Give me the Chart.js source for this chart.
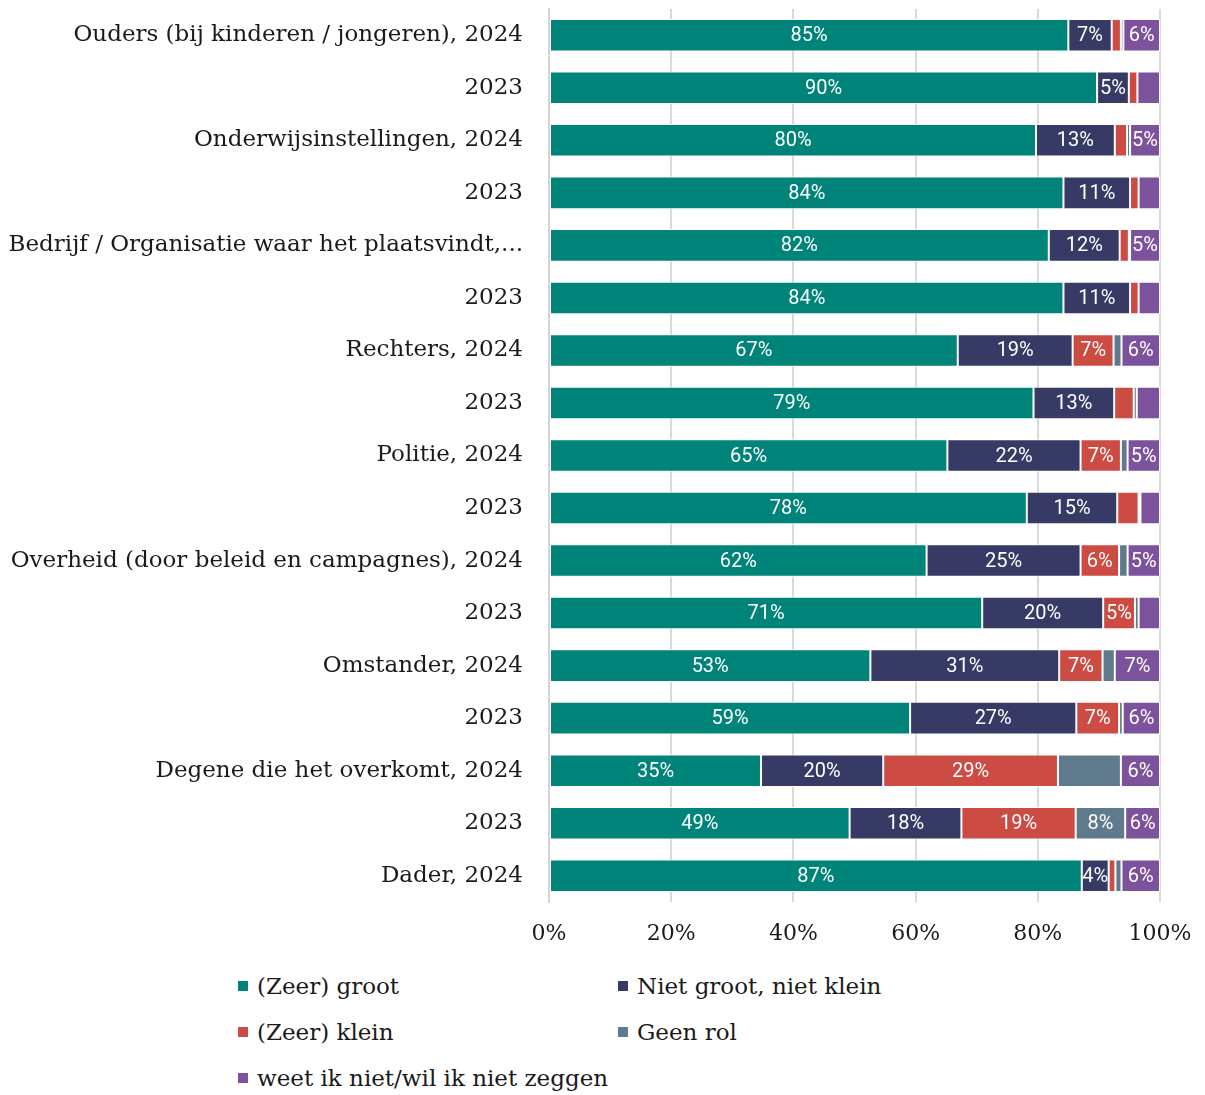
<!DOCTYPE html>
<html lang="nl">
<head>
<meta charset="utf-8">
<title>Rol bij voorkomen</title>
<script src="https://cdn.jsdelivr.net/npm/chart.js@4"></script>
<style>
    html, body { margin: 0; padding: 0; background: #fff; }
    #wrap { position: relative; width: 1205px; height: 1095px; }
    #grafiekVak { position: absolute; left: 0; top: 0; width: 1205px; height: 960px; }
    #legenda {
        position: absolute; left: 238px; top: 963px;
        display: grid; grid-template-columns: 380px 380px;
        grid-auto-rows: 46px;
        font-family: "DejaVu Serif", serif; font-size: 23px; color: #1a1a1a;
    }
    .item { display: flex; align-items: center; white-space: nowrap; }
    .blokje { width: 10px; height: 10px; margin-right: 9px; display: inline-block; }
</style>
</head>
<body>
<div id="wrap">
    <div id="grafiekVak"><canvas id="grafiek"></canvas></div>
    <div id="legenda"></div>
</div>
<script>
const categorieen = [
    'Ouders (bij kinderen / jongeren), 2024', '2023',
    'Onderwijsinstellingen, 2024', '2023',
    'Bedrijf / Organisatie waar het plaatsvindt,...', '2023',
    'Rechters, 2024', '2023',
    'Politie, 2024', '2023',
    'Overheid (door beleid en campagnes), 2024', '2023',
    'Omstander, 2024', '2023',
    'Degene die het overkomt, 2024', '2023',
    'Dader, 2024'
];

const zeerGroot   = [85.0, 89.7, 79.7, 84.2, 81.8, 84.2, 66.9, 79.3, 65.2, 78.2, 61.8, 70.9, 52.6, 59.1, 34.7, 49.2, 87.2];
const nietGroot   = [7.1, 5.2, 12.9, 10.9, 11.6, 10.9, 18.8, 13.2, 21.8, 14.8, 25.2, 19.8, 30.9, 27.2, 20.0, 18.3, 4.4];
const zeerKlein   = [1.5, 1.4, 2.0, 1.4, 1.5, 1.4, 6.7, 3.2, 6.6, 3.5, 6.3, 5.2, 7.1, 7.0, 28.6, 18.7, 1.1];
const geenRol     = [0.4, 0, 0.5, 0, 0.2, 0, 1.3, 0.5, 1.1, 0.3, 1.4, 0.6, 2.0, 0.6, 10.3, 8.1, 1.0];
const weetNiet    = [6.0, 3.7, 4.9, 3.5, 4.9, 3.5, 6.3, 3.8, 5.3, 3.2, 5.3, 3.5, 7.4, 6.1, 6.4, 5.7, 6.3];

const reeksNamen  = ['(Zeer) groot', 'Niet groot, niet klein', '(Zeer) klein', 'Geen rol', 'weet ik niet/wil ik niet zeggen'];
const reeksKleuren = ['#00847a', '#373a65', '#cc4b43', '#5f7a8d', '#7d529c'];
const asLabels = [0, 20, 40, 60, 80, 100];

// segmenten kleiner dan 4% krijgen geen label; [reeks, rij] zonder label
const labelDrempel = 4;
const zonderLabel = [[3, 14]];

const serif = '"DejaVu Serif", serif';

// percentages in de balken
const balkLabels = {
    id: 'balkLabels',
    afterDatasetsDraw(chart) {
        const ctx = chart.ctx;
        ctx.save();
        ctx.font = '20px Roboto, sans-serif';
        ctx.fillStyle = '#ffffff';
        ctx.textAlign = 'center';
        ctx.textBaseline = 'middle';
        chart.data.datasets.forEach((ds, d) => {
            const meta = chart.getDatasetMeta(d);
            meta.data.forEach((bar, i) => {
                const waarde = ds.data[i];
                if (waarde < labelDrempel) return;
                if (zonderLabel.some(p => p[0] === d && p[1] === i)) return;
                ctx.fillText(Math.round(waarde) + '%', (bar.x + bar.base) / 2, bar.y + 1);
            });
        });
        ctx.restore();
    }
};

const reeksen = [zeerGroot, nietGroot, zeerKlein, geenRol, weetNiet];

new Chart(document.getElementById('grafiek'), {
    type: 'bar',
    data: {
        labels: categorieen,
        datasets: reeksen.map((data, i) => ({
            label: reeksNamen[i],
            data: data,
            backgroundColor: reeksKleuren[i],
            borderColor: '#ffffff',
            borderWidth: 1,
            borderSkipped: false,
            barPercentage: 0.62,
            categoryPercentage: 1
        }))
    },
    options: {
        indexAxis: 'y',
        responsive: true,
        maintainAspectRatio: false,
        animation: false,
        layout: { padding: { top: 9, right: 45, left: 0, bottom: 0 } },
        plugins: {
            legend: { display: false },
            tooltip: { enabled: false }
        },
        scales: {
            x: {
                stacked: true,
                min: 0,
                max: 100,
                afterBuildTicks: scale => { scale.ticks = asLabels.map(v => ({ value: v })); },
                afterFit: scale => {
                    scale.height = 58;
                    scale.paddingLeft = 0;
                    scale.paddingRight = 0;
                },
                grid: { color: '#dadada', lineWidth: 2, drawTicks: false },
                border: { display: false },
                ticks: {
                    padding: 19,
                    color: '#1a1a1a',
                    font: { family: serif, size: 22 },
                    callback: v => v + '%'
                }
            },
            y: {
                stacked: true,
                afterFit: scale => {
                    scale.width = 549;
                    scale.paddingTop = 0;
                    scale.paddingBottom = 0;
                },
                grid: { display: false, drawTicks: false },
                border: { display: true, color: '#d4d4d4', width: 2 },
                ticks: {
                    padding: 26,
                    color: '#1a1a1a',
                    autoSkip: false,
                    font: { family: serif, size: 23 }
                }
            }
        }
    },
    plugins: [balkLabels]
});

// legenda in twee kolommen
const legenda = document.getElementById('legenda');
reeksNamen.forEach((naam, i) => {
    const item = document.createElement('div');
    item.className = 'item';
    item.innerHTML = '<span class="blokje" style="background:' + reeksKleuren[i] + '"></span>' + naam;
    legenda.appendChild(item);
});
</script>
</body>
</html>
